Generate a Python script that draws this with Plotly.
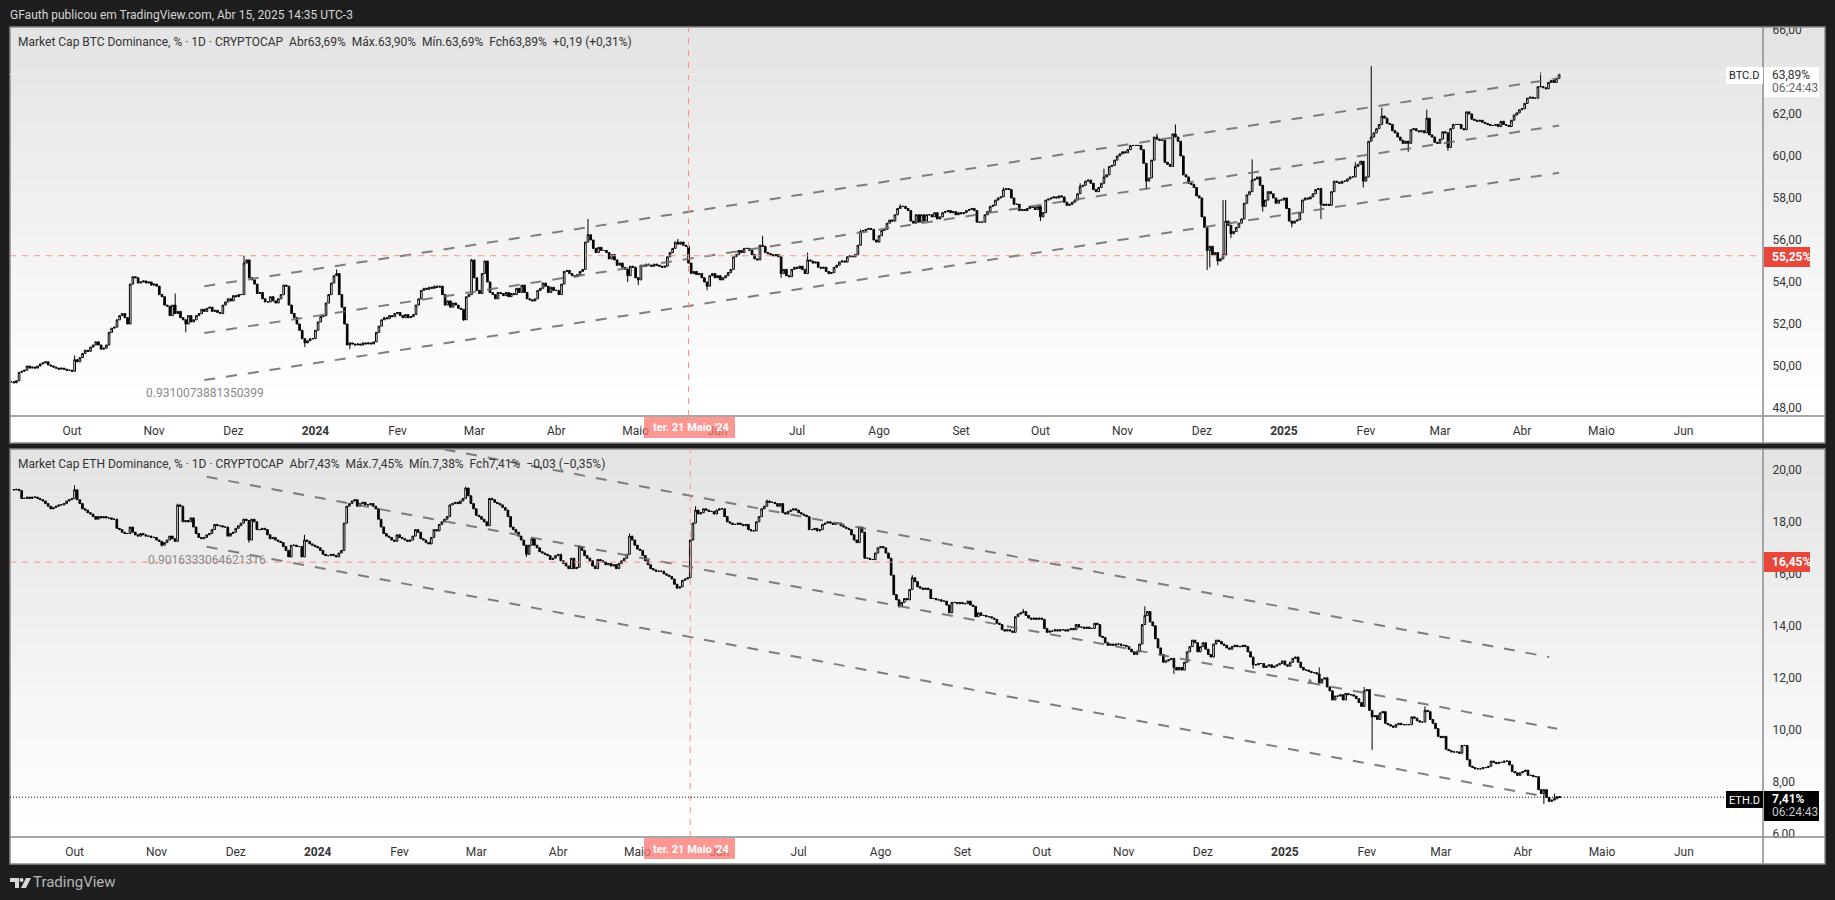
import pandas as pd
import plotly.graph_objects as go

W, H = 1835, 900
START = "2023-09-08"

btc_close = [
49.25,49.2,49.3,49.7,49.75,49.8,50.0,49.9,49.95,49.9,
50.0,50.1,50.15,50.2,50.05,50.0,49.95,49.9,49.85,49.9,
49.85,49.8,49.8,49.75,50.3,50.2,50.4,50.6,50.75,50.7,
50.9,51.0,51.15,51.0,50.8,50.85,51.0,51.6,51.8,51.85,
52.2,52.4,52.5,52.3,52.0,53.9,54.25,54.2,53.95,54.0,
54.05,53.95,54.0,53.85,53.9,53.8,53.4,53.3,52.9,52.85,
52.4,52.9,52.5,52.6,52.3,52.2,52.0,52.4,52.1,52.2,
52.4,52.5,52.7,52.6,52.75,52.8,52.6,52.65,52.55,52.5,
52.9,53.05,53.2,53.1,53.35,53.3,53.4,53.4,54.9,55.05,
54.2,54.1,53.9,53.45,53.5,53.2,53.05,53.05,53.3,53.1,
53.0,53.2,53.4,53.85,53.8,52.9,52.5,52.3,52.0,51.7,
51.3,51.1,51.2,51.3,51.3,51.7,52.1,52.35,52.4,53.0,
53.4,53.95,54.3,54.4,53.4,52.8,52.0,51.0,51.1,51.05,
51.0,51.05,51.0,51.1,51.05,51.1,51.05,51.15,51.6,51.9,
52.2,52.3,52.25,52.4,52.35,52.5,52.55,52.4,52.3,52.45,
52.3,52.35,52.45,52.9,53.2,53.6,53.7,53.65,53.75,53.7,
53.8,53.75,53.8,53.4,52.9,53.1,52.8,53.0,52.9,52.75,
52.7,52.2,53.3,53.4,55.05,54.2,53.6,53.45,54.4,55.0,
54.0,53.5,53.4,53.2,53.5,53.45,53.35,53.5,53.3,53.45,
53.4,53.7,53.5,53.85,53.5,53.2,53.15,53.1,53.2,53.6,
53.7,53.95,53.8,53.5,53.75,53.6,53.6,53.4,53.9,54.5,
54.55,54.4,54.3,54.25,54.35,54.5,54.6,55.9,56.25,56.0,
55.6,55.4,55.65,55.5,55.5,55.4,55.1,55.3,55.05,54.8,
54.9,54.7,54.6,54.3,54.75,54.7,54.2,54.1,54.8,54.75,
54.85,54.8,54.75,54.85,54.8,54.75,54.7,54.75,55.2,55.4,
55.6,55.9,55.8,55.9,55.75,55.7,54.9,54.4,54.5,54.35,
54.4,54.2,54.0,53.8,54.3,54.4,54.2,54.3,54.1,54.2,
54.3,54.45,54.6,55.2,55.3,55.5,55.4,55.6,55.6,55.5,
55.3,55.1,55.05,55.75,55.7,55.4,55.35,55.3,55.25,55.3,
55.2,54.4,54.6,54.3,54.25,54.6,54.7,54.65,54.75,54.6,
54.4,55.05,55.0,54.9,54.95,54.7,54.65,54.7,54.5,54.4,
54.45,54.7,54.8,54.95,55.0,54.95,55.2,55.25,55.2,55.3,
55.75,56.4,56.45,56.5,56.55,56.5,56.0,55.9,56.2,56.45,
56.5,56.8,56.95,56.9,57.2,57.5,57.6,57.6,57.5,57.4,
56.9,56.8,57.2,56.85,57.2,56.9,57.2,57.2,57.1,57.3,
57.0,57.1,57.3,57.35,57.4,57.3,57.35,57.2,57.3,57.25,
57.3,57.4,57.45,57.5,57.4,56.85,56.85,56.85,57.2,57.35,
57.6,57.65,57.9,58.0,58.05,58.4,58.45,58.4,58.0,57.7,
57.7,57.4,57.45,57.4,57.5,57.6,57.55,57.45,57.6,57.1,
57.3,57.9,57.95,58.0,58.05,58.0,58.1,58.05,57.8,57.65,
57.7,57.8,57.9,58.2,58.55,58.6,58.8,58.85,58.7,58.4,
58.3,58.5,58.7,59.0,59.1,59.5,59.55,59.8,60.0,60.1,
60.2,60.15,60.3,60.5,60.5,60.5,60.5,60.3,59.65,58.8,
58.95,59.8,60.9,60.8,60.75,60.75,59.7,59.6,59.5,61.05,
60.9,60.7,60.0,59.1,59.0,58.7,58.65,58.5,58.1,58.0,
57.1,56.6,55.5,55.7,55.3,55.4,55.0,55.1,55.3,56.9,
56.7,56.3,56.4,56.6,56.8,57.0,57.75,58.15,58.3,58.85,
58.9,59.0,58.6,57.6,57.9,58.3,58.2,58.0,57.75,57.9,
57.9,58.0,57.5,56.9,56.8,56.9,56.95,57.3,57.9,58.0,
57.95,58.05,58.2,58.4,58.45,57.7,57.65,57.7,57.65,58.3,
58.8,58.75,58.7,58.8,58.8,58.9,59.0,59.0,59.5,59.6,
59.75,58.8,59.0,60.7,60.9,61.1,61.3,61.5,61.9,61.8,
61.55,61.5,61.2,61.1,60.9,60.75,60.6,60.7,60.6,61.25,
61.3,61.2,61.15,61.2,61.1,61.8,61.0,60.9,60.65,60.6,
60.8,61.15,61.1,60.4,61.3,61.5,61.5,61.5,61.3,61.25,
62.1,62.0,61.75,61.7,61.65,61.7,61.6,61.55,61.5,61.45,
61.45,61.5,61.4,61.65,61.5,61.45,61.4,61.7,61.95,62.05,
62.2,62.25,62.5,62.75,62.8,62.75,62.75,63.3,63.3,63.25,
63.2,63.5,63.6,63.5,63.69,63.89]

btc_high_days = [24,62,88,123,174,218,252,284,301,321,336,375,404,413,433,440,458,459,469,508,514,518,535,578,585]
btc_high_vals = [50.5,53.45,55.25,54.6,55.1,57.0,56.05,56.2,55.4,56.5,57.7,58.5,58.7,59.4,61.05,61.5,57.9,57.9,59.84,59.7,64.28,62.3,62.2,63.97,63.9]
btc_low_days = [66,111,128,171,233,237,263,291,389,429,452,453,456,461,473,484,495,511,528,543,585]
btc_low_vals = [51.6,50.9,50.8,52.15,54.0,53.85,53.6,54.2,56.9,58.4,54.57,54.7,54.8,56.1,57.35,56.6,57.0,58.5,60.2,60.25,63.69]

eth_close = [
19.23,19.25,19.2,18.9,18.9,18.95,18.9,18.95,18.95,18.9,
18.85,18.8,18.7,18.6,18.5,18.55,18.6,18.65,18.65,18.7,
18.8,18.85,18.9,19.23,18.85,18.7,18.5,18.45,18.35,18.3,
18.2,18.1,18.2,18.15,18.2,18.15,18.15,18.1,18.1,17.75,
17.7,17.6,17.55,17.55,17.8,17.6,17.5,17.45,17.55,17.5,
17.45,17.45,17.4,17.4,17.3,17.25,17.1,17.2,17.3,17.45,
17.35,17.25,18.65,18.6,18.0,18.05,18.0,18.15,17.8,17.55,
17.4,17.35,17.4,17.5,17.55,17.7,17.9,17.85,17.85,17.8,
17.8,17.45,17.55,17.6,17.75,17.85,17.95,18.1,18.05,17.3,
18.1,18.0,17.7,17.7,17.75,17.7,17.5,17.35,17.4,17.3,
17.25,17.2,17.05,16.9,16.65,17.1,17.1,17.05,17.05,16.65,
17.3,17.25,17.15,17.1,17.05,17.0,16.9,16.75,16.7,16.7,
16.75,16.7,16.65,16.8,16.9,17.95,18.6,18.7,18.8,18.85,
18.6,18.7,18.75,18.65,18.65,18.7,18.6,18.5,18.1,17.8,
17.55,17.45,17.4,17.3,17.25,17.5,17.4,17.35,17.3,17.25,
17.3,17.45,17.7,17.6,17.35,17.3,17.2,17.15,17.4,17.7,
17.65,17.9,18.0,18.1,18.2,18.65,18.7,18.75,18.7,18.8,
18.9,19.3,19.0,18.7,18.5,18.25,18.2,18.1,18.0,17.85,
18.9,18.85,18.75,18.7,18.65,18.55,18.45,18.2,17.8,17.7,
17.6,17.45,17.3,17.1,16.75,17.1,17.35,17.1,17.0,16.85,
16.8,16.75,16.7,16.55,16.6,16.7,16.75,16.5,16.4,16.3,
16.2,16.6,16.2,16.25,17.05,16.9,16.7,16.6,16.5,16.3,
16.2,16.55,16.5,16.45,16.35,16.4,16.3,16.35,16.2,16.4,
16.5,16.6,16.75,17.45,17.3,17.1,16.95,16.9,16.7,16.5,
16.35,16.2,16.15,16.1,16.1,16.1,16.0,15.95,15.9,15.8,
15.6,15.45,15.5,15.75,15.8,15.85,17.3,17.95,18.45,18.3,
18.35,18.5,18.45,18.4,18.4,18.3,18.45,18.5,18.5,18.2,
18.0,17.95,17.9,17.9,17.95,17.9,17.85,17.9,17.7,17.65,
17.65,18.0,18.2,18.5,18.6,18.8,18.75,18.75,18.7,18.6,
18.7,18.35,18.3,18.4,18.45,18.5,18.45,18.35,18.3,18.25,
18.2,17.7,17.7,17.75,17.65,17.7,17.9,17.95,18.0,17.95,
17.9,17.95,17.95,17.85,17.8,17.75,17.7,17.5,17.3,17.2,
17.8,17.6,16.6,16.6,16.55,16.55,16.8,17.0,17.05,17.0,
16.8,16.6,15.95,15.2,15.0,14.75,14.9,15.05,15.0,15.4,
15.85,15.7,15.5,15.45,15.4,15.45,15.4,15.05,15.05,15.0,
15.0,14.95,14.95,14.8,14.5,14.9,14.9,14.85,14.9,14.85,
14.85,14.95,14.8,14.75,14.35,14.5,14.4,14.4,14.35,14.35,
14.3,14.25,14.1,14.05,13.85,13.8,13.85,13.8,13.75,14.35,
14.45,14.5,14.55,14.4,14.3,14.25,14.3,14.25,14.3,14.25,
13.9,13.75,13.8,13.8,13.85,13.8,13.85,13.85,13.8,13.85,
13.9,13.85,14.05,13.95,13.95,13.9,13.95,13.9,13.9,14.1,
14.05,13.6,13.55,13.35,13.25,13.3,13.25,13.3,13.3,13.25,
13.25,13.2,13.1,13.0,12.9,13.0,13.3,14.05,14.4,14.55,
14.15,14.0,13.5,13.15,12.9,12.6,12.65,12.7,12.75,12.4,
12.3,12.4,12.3,12.6,13.0,13.2,13.45,13.35,13.0,13.2,
13.35,13.1,12.9,12.8,13.3,13.45,13.4,13.3,13.25,13.15,
13.1,13.2,13.25,13.2,13.2,13.25,13.2,13.0,12.8,12.5,
12.5,12.55,12.55,12.4,12.45,12.5,12.4,12.45,12.5,12.55,
12.65,12.5,12.45,12.6,12.75,12.8,12.6,12.4,12.3,12.3,
12.25,12.2,12.2,12.15,11.8,11.95,12.0,11.65,11.5,11.15,
11.3,11.3,11.35,11.15,11.4,11.35,11.35,11.3,11.2,11.05,
10.9,11.5,11.55,10.75,10.5,10.55,10.4,10.65,10.7,10.25,
10.2,10.15,10.1,10.2,10.25,10.2,10.2,10.2,10.2,10.5,
10.45,10.35,10.3,10.3,10.75,10.7,10.4,10.25,10.05,9.75,
9.7,9.75,9.25,9.2,9.15,9.15,9.15,9.1,9.4,9.4,
8.85,8.6,8.55,8.5,8.5,8.5,8.55,8.55,8.6,8.8,
8.75,8.7,8.75,8.75,8.8,8.8,8.65,8.4,8.35,8.25,
8.35,8.4,8.45,8.25,8.25,8.2,8.2,7.7,7.55,7.7,
7.4,7.25,7.3,7.35,7.43,7.41]

eth_high_days = [23,62,110,171,214,233,258,285,340,382,428,494,511,534,583,585]
eth_high_vals = [19.4,18.7,17.5,19.35,17.1,17.55,18.6,18.85,15.95,14.65,14.75,12.4,11.65,10.9,7.55,7.45]
eth_low_days = [56,89,194,334,335,439,469,514,579,585]
eth_low_vals = [17.05,17.2,16.65,15.0,14.7,12.15,12.35,9.23,7.15,7.38]

# channel lines: [start date, end date, start value, end value]
btc_channels = [["2023-11-20","2025-04-15",53.8,63.7],
                ["2023-11-20","2025-04-15",51.57,61.45],
                ["2023-11-20","2025-04-15",49.33,59.2]]
eth_channels = [["2023-11-20","2025-04-11",22.5,12.8],
                ["2023-11-20","2025-04-14",19.73,10.04],
                ["2023-11-20","2025-04-09",17.04,7.44]]

month_ticks_x = ["2023-10-01","2023-11-01","2023-12-01","2024-01-01","2024-02-01","2024-03-01","2024-04-01","2024-05-01",
                 "2024-06-01","2024-07-01","2024-08-01","2024-09-01","2024-10-01","2024-11-01","2024-12-01","2025-01-01",
                 "2025-02-01","2025-03-01","2025-04-01","2025-05-01","2025-06-01"]
month_labels = ["Out","Nov","Dez","<b>2024</b>","Fev","Mar","Abr","Maio","Jun","Jul","Ago","Set","Out","Nov","Dez","<b>2025</b>",
                "Fev","Mar","Abr","Maio","Jun"]
btc_ticks = [48,50,52,54,56,58,60,62,66]
eth_ticks = [6,8,10,12,14,16,18,20]

def ohlc(close, hi_d, hi_v, lo_d, lo_v):
    opens = [close[0]] + close[:-1]
    highs = [max(o, c) for o, c in zip(opens, close)]
    lows = [min(o, c) for o, c in zip(opens, close)]
    for d, v in zip(hi_d, hi_v):
        highs[d] = max(highs[d], v)
    for d, v in zip(lo_d, lo_v):
        lows[d] = min(lows[d], v)
    return opens, highs, lows

def px(x): return x / W
def py(y): return 1 - y / H

fig = go.Figure()

def candles(close, hd, hv, ld, lv, xa, ya):
    o, h, l = ohlc(close, hd, hv, ld, lv)
    dates = pd.date_range(START, periods=len(close), freq="D")
    fig.add_trace(go.Candlestick(
        x=dates, open=o, high=h, low=l, close=close, xaxis=xa, yaxis=ya,
        increasing=dict(line=dict(color="#000000", width=1), fillcolor="#ffffff"),
        decreasing=dict(line=dict(color="#000000", width=1), fillcolor="#000000"),
        whiskerwidth=0, showlegend=False, hoverinfo="skip"))

candles(btc_close, btc_high_days, btc_high_vals, btc_low_days, btc_low_vals, "x", "y")
candles(eth_close, eth_high_days, eth_high_vals, eth_low_days, eth_low_vals, "x2", "y2")

for chans, xa, ya in [(btc_channels, "x", "y"), (eth_channels, "x2", "y2")]:
    for c in chans:
        fig.add_trace(go.Scatter(x=c[:2], y=c[2:], mode="lines", xaxis=xa, yaxis=ya, showlegend=False, hoverinfo="skip",
                                 line=dict(color="rgba(105,105,105,0.85)", width=2, dash="11px,11px")))

shapes = []
def rect(x0, y0, x1, y1, color, layer="below", line=None):
    shapes.append(dict(type="rect", xref="paper", yref="paper", x0=px(x0), x1=px(x1), y0=py(y0), y1=py(y1),
                       fillcolor=color, layer=layer, line=dict(width=line[1], color=line[0]) if line else dict(width=0)))

def panel(top, bottom, axis_bottom):
    n = 28
    for i in range(n):
        y0 = top + (bottom - top) * i / n
        g = round(228 + 27 * i / (n - 1))
        # each band runs to the pane bottom so no seam shows between bands
        rect(10, round(y0), 1825, bottom, f"rgb({g},{g},{g})")
    rect(10, bottom, 1825, axis_bottom, "#ffffff")

panel(27, 416, 443)
panel(449, 837, 864)

# pieces hiding the half-cut scale labels at the pane edges
rect(0, 0, W, 27, "#1e1e1e", "above")
rect(1764, 838, 1824, 864, "#ffffff", "above")

# pane frames and separators
for top, bottom, axb in [(27, 416, 443), (449, 837, 864)]:
    rect(10, top, 1825, axb, "rgba(0,0,0,0)", "above", ("#8a8a8a", 1.5))
    shapes.append(dict(type="line", xref="paper", yref="paper", x0=px(10), x1=px(1825), y0=py(bottom), y1=py(bottom),
                       line=dict(color="#8a8a8a", width=1.5), layer="above"))
    shapes.append(dict(type="line", xref="paper", yref="paper", x0=px(1763), x1=px(1763), y0=py(top), y1=py(axb),
                       line=dict(color="#8a8a8a", width=1.5), layer="above"))

CROSS = "#ff8f8a"
# crosshair
shapes.append(dict(type="line", xref="x", yref="paper", x0="2024-05-21", x1="2024-05-21", y0=py(416), y1=py(27),
                   line=dict(color=CROSS, width=1, dash="6px,6px"), layer="above"))
shapes.append(dict(type="line", xref="x2", yref="paper", x0="2024-05-21", x1="2024-05-21", y0=py(837), y1=py(449),
                   line=dict(color=CROSS, width=1, dash="6px,6px"), layer="above"))
shapes.append(dict(type="line", xref="paper", yref="y", x0=px(10), x1=px(1763), y0=55.25, y1=55.25,
                   line=dict(color=CROSS, width=1, dash="6px,6px"), layer="above"))
shapes.append(dict(type="line", xref="paper", yref="y2", x0=px(10), x1=px(1763), y0=16.45, y1=16.45,
                   line=dict(color=CROSS, width=1, dash="6px,6px"), layer="above"))
# last price lines
shapes.append(dict(type="line", xref="paper", yref="y", x0=px(10), x1=px(1726), y0=63.89, y1=63.89,
                   line=dict(color="#ffffff", width=1, dash="1px,2px"), layer="above"))
shapes.append(dict(type="line", xref="paper", yref="y2", x0=px(10), x1=px(1726), y0=7.41, y1=7.41,
                   line=dict(color="#000000", width=1, dash="1px,2px"), layer="above"))

# tags
TAG = "rgba(250,118,112,0.75)"
rect(644, 417, 735, 438, TAG, "above")
rect(644, 838, 735, 859, TAG, "above")
rect(1764, 247, 1810, 267, "#e8483c", "above")
rect(1764, 552, 1810, 572, "#e8483c", "above")
rect(1726, 67, 1763, 84, "#ffffff", "above")
rect(1764, 67, 1819, 97, "#ffffff", "above")
rect(1726, 791, 1763, 808, "#000000", "above")
rect(1764, 791, 1819, 821, "#000000", "above")

# TradingView mark
for path in ["M 10 878 L 19 878 L 19 888 L 15 888 L 15 882 L 10 882 Z",
             "M 26 878 L 31 878 L 26 888 L 21 888 Z"]:
    pts = path.split()
    out, i = [], 0
    while i < len(pts):
        if pts[i] in "ML":
            out.append(f"{pts[i]} {px(float(pts[i+1])):.5f} {py(float(pts[i+2])):.5f}")
            i += 3
        else:
            out.append(pts[i]); i += 1
    shapes.append(dict(type="path", xref="paper", yref="paper", path=" ".join(out), fillcolor="#d8d8d8",
                       line=dict(width=0), layer="above"))
shapes.append(dict(type="circle", xref="paper", yref="paper", x0=px(19.5), x1=px(23.5), y0=py(882), y1=py(878),
                   fillcolor="#d8d8d8", line=dict(width=0), layer="above"))

FONT = "Roboto"
ann = []
def text(x, y, s, size=12, color="#333333", anchor="left", bold=False):
    ann.append(dict(xref="paper", yref="paper", x=px(x), y=py(y), text=f"<b>{s}</b>" if bold else s, showarrow=False,
                    xanchor=anchor, yanchor="middle", font=dict(family=FONT, size=size, color=color), borderpad=0, borderwidth=0))

text(10, 15, "GFauth publicou em TradingView.com, Abr 15, 2025 14:35 UTC-3", 12, "#d6d6d6")
text(18, 42, "Market Cap BTC Dominance, % · 1D · CRYPTOCAP &nbsp;Abr63,69% &nbsp;Máx.63,90% &nbsp;Mín.63,69% &nbsp;Fch63,89% &nbsp;+0,19 (+0,31%)", 12, "#333333")
text(18, 464, "Market Cap ETH Dominance, % · 1D · CRYPTOCAP &nbsp;Abr7,43% &nbsp;Máx.7,45% &nbsp;Mín.7,38% &nbsp;Fch7,41% &nbsp;−0,03 (−0,35%)", 12, "#333333")
text(205, 393, "0.9310073881350399", 12, "#8a8a8a", "center")
text(207, 560, "0.9016333064621316", 12, "#8a8a8a", "center")
text(691, 428, "ter. 21 Maio '24", 11, "#ffffff", "center", bold=True)
text(691, 849, "ter. 21 Maio '24", 11, "#ffffff", "center", bold=True)
text(1772, 257, "55,25%", 12, "#ffffff", bold=True)
text(1772, 562, "16,45%", 12, "#ffffff", bold=True)
text(1729, 76, "BTC.D", 11, "#222222")
text(1772, 75, "63,89%", 12, "#333333")
text(1772, 88, "06:24:43", 12, "#666666")
text(1729, 800, "ETH.D", 11, "#ffffff")
text(1772, 799, "7,41%", 12, "#ffffff", bold=True)
text(1772, 812, "06:24:43", 12, "#c8c8c8")
text(33, 882, "TradingView", 15, "#b5b5b5")
text(1310, 680, "▲", 10, "#777777", "center")

tickfont = dict(family=FONT, size=12, color="#333333")
def xaxis(domain_anchor, rng):
    return dict(domain=[px(10), px(1763)], range=rng, type="date", anchor=domain_anchor, tickmode="array",
                tickvals=month_ticks_x, ticktext=month_labels, ticks="outside", ticklen=4, tickcolor="rgba(0,0,0,0)",
                tickfont=tickfont, showgrid=False, zeroline=False, showline=False, automargin=False,
                rangeslider=dict(visible=False), fixedrange=True)
def yaxis(domain, rng, vals, anchor):
    return dict(domain=domain, range=rng, side="right", anchor=anchor, tickmode="array", tickvals=vals,
                tickformat=".2f", ticksuffix="%", ticks="outside", ticklen=6, tickcolor="rgba(0,0,0,0)",
                tickfont=tickfont, showgrid=False, zeroline=False, showline=False, automargin=False, fixedrange=True)

fig.update_layout(
    width=W, height=H, autosize=False, margin=dict(l=0, r=0, t=0, b=0, pad=0),
    paper_bgcolor="#1e1e1e", plot_bgcolor="rgba(0,0,0,0)", separators=",.", showlegend=False, hovermode=False,
    boxgap=0.1,
    xaxis=xaxis("y", ["2023-09-07 13:40", "2025-07-01 01:30"]),
    xaxis2=xaxis("y2", ["2023-09-06 14:00", "2025-06-30 22:00"]),
    yaxis=yaxis([py(416), py(27)], [47.62, 66.14], btc_ticks, "x"),
    yaxis2=yaxis([py(837), py(449)], [5.88, 20.8], eth_ticks, "x2"),
    shapes=shapes, annotations=ann, font=dict(family=FONT),
)

fig.write_html("out.html", config=dict(displayModeBar=False), post_script="document.body.style.margin='0';document.body.style.overflow='hidden';")
